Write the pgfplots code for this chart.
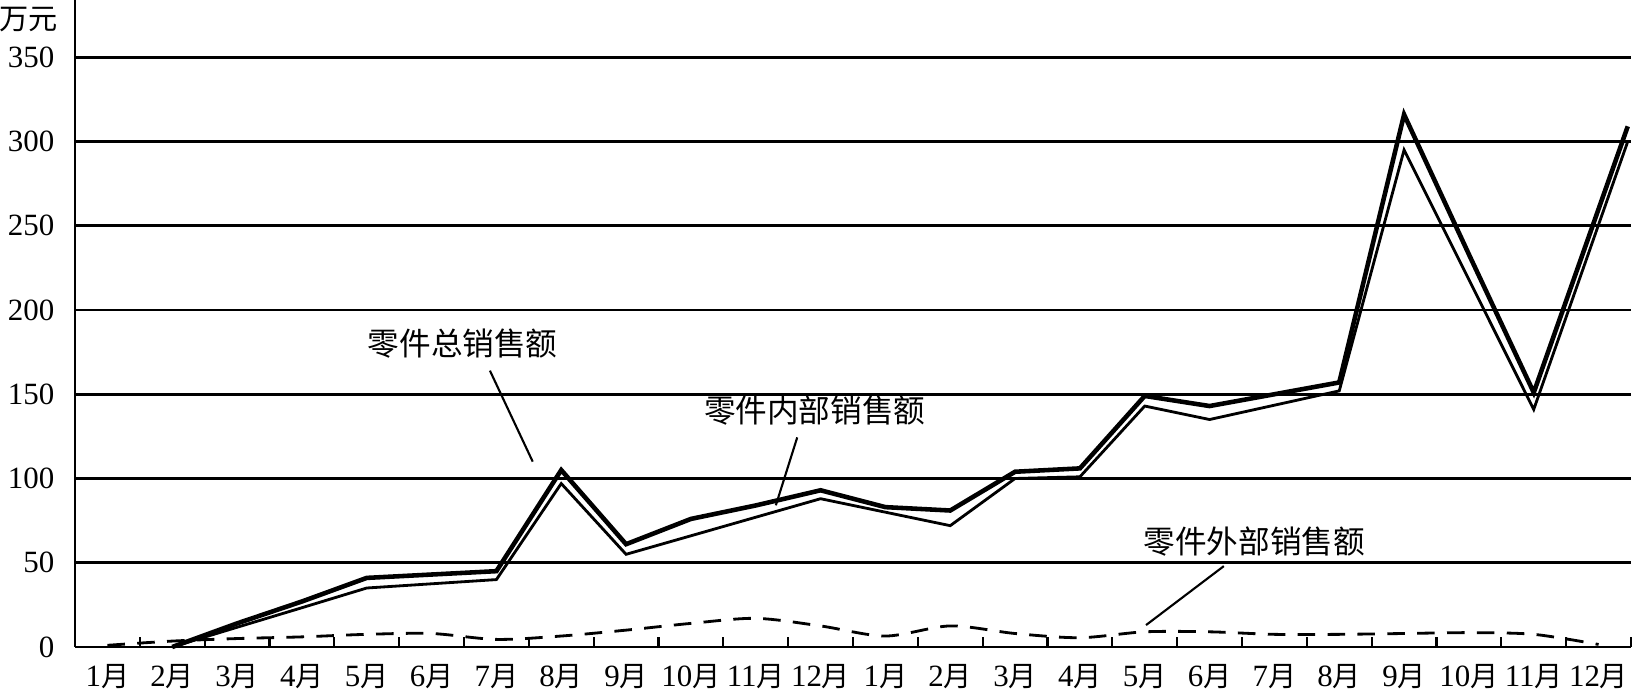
\documentclass[border=0pt]{standalone}
\usepackage{fontspec}
\setmainfont{Liberation Serif}
\newfontfamily\cjk{Noto Sans CJK SC}
\usepackage{pgfplots}
\pgfplotsset{compat=1.18}
\newcommand\yue{{\cjk\fontsize{8}{9}\selectfont 月}}

\begin{document}
\begin{tikzpicture}
\begin{axis}[
  at={(0,0)}, anchor=south west,
  scale only axis, width=15.56cm, height=6.47cm,
  xmin=0.5, xmax=24.5, ymin=0, ymax=384,
  axis x line=bottom, axis y line=left,
  axis line style={-, line width=0.8pt, black},
  xtick={1,...,24},
  xticklabels={1\yue,2\yue,3\yue,4\yue,5\yue,6\yue,7\yue,8\yue,9\yue,10\yue,11\yue,12\yue,1\yue,2\yue,3\yue,4\yue,5\yue,6\yue,7\yue,8\yue,9\yue,10\yue,11\yue,12\yue},
  minor xtick={1.5,2.5,...,24.5},
  ytick={0,50,...,350},
  ymajorgrids, grid style={black, line width=0.75pt},
  major tick length=0pt, minor tick length=0.1cm, tick align=inside,
  tick style={black, line width=0.6pt},
  /pgf/number format/assume math mode=true,
  yticklabel style={font=\fontsize{8.8}{10}\selectfont, inner sep=0pt, xshift=-0.2cm, anchor=east},
  xticklabel style={font=\fontsize{8.8}{10}\selectfont, inner sep=0pt, anchor=center, yshift=-0.3cm},
  clip=false, no marks,
]
% 零件外部销售额
\addplot[black, line width=0.8pt, dash pattern=on 5pt off 3.5pt, smooth, tension=0.5] coordinates {
 (1,1) (2,3.5) (3,5) (4,6) (5,7.5) (6,8) (7,4.5) (8,6.5) (9,10) (10,14) (11,17) (12,12.5)
 (13,6.5) (14,12.5) (15,8) (16,5.5) (17,9) (18,9) (19,7.5) (20,7.5) (21,8) (22,8.5) (23,7.5) (24,1.5)};
% 零件内部销售额
\addplot[black, line width=0.8pt] coordinates {
 (2,0) (3,11.7) (4,23.3) (5,35) (6,37.5) (7,40) (8,97) (9,55) (10,66) (11,77) (12,88)
 (13,80) (14,72) (15,100) (16,101) (17,143) (18,135) (19,143.5) (20,152) (21,295) (22,218) (23,141) (24.45,300)};
% 零件总销售额
\addplot[black, line width=1.3pt] coordinates {
 (2,0) (3,14) (4,27) (5,41) (6,43) (7,45) (8,105) (9,61) (10,76) (11,84) (12,93)
 (13,83) (14,81) (15,104) (16,106) (17,149) (18,143) (19,150) (20,157) (21,316) (22,233) (23,151) (24.45,309)};

\node[font=\cjk\fontsize{8.3}{10}\selectfont, inner sep=0pt] at (axis cs:-0.21,372.6) {万元};
\node[font=\cjk\fontsize{9}{11}\selectfont, inner sep=0pt] at (axis cs:6.48,180) {零件总销售额};
\draw[black, line width=0.6pt] (axis cs:6.90,164) -- (axis cs:7.56,110);
\node[font=\cjk\fontsize{9}{11}\selectfont, inner sep=0pt] at (axis cs:11.91,140.4) {零件内部销售额};
\draw[black, line width=0.6pt] (axis cs:11.64,124.4) -- (axis cs:11.31,84.1);
\node[font=\cjk\fontsize{9}{11}\selectfont, inner sep=0pt] at (axis cs:18.69,62.8) {零件外部销售额};
\draw[black, line width=0.6pt] (axis cs:18.22,48) -- (axis cs:17.02,13);
\end{axis}
\pgfresetboundingbox
\path (-0.75cm,-0.44cm) rectangle (15.58cm,6.47cm);
\end{tikzpicture}
\end{document}
